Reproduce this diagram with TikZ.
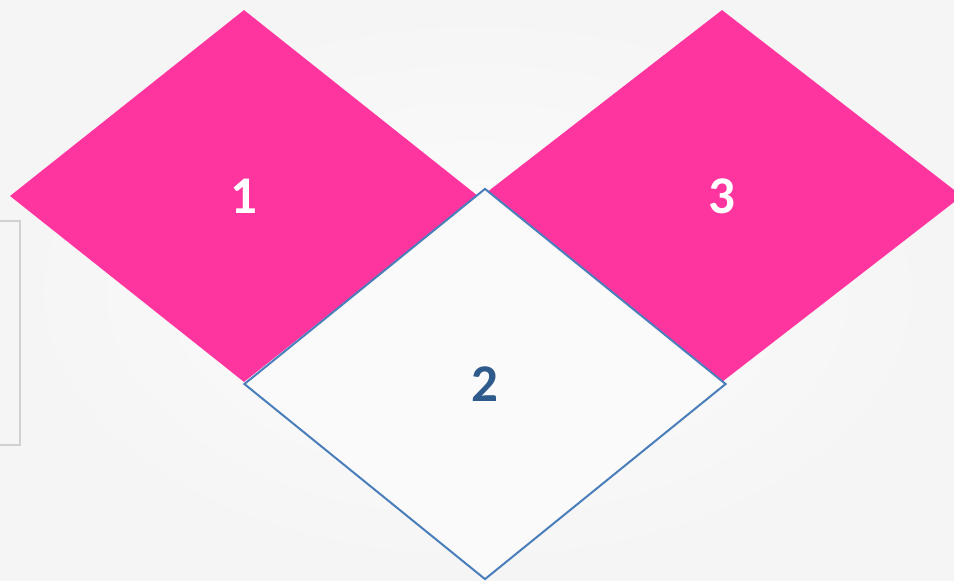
\documentclass[tikz,border=0pt]{standalone}
\usepackage{fontspec}
\setmainfont{Carlito}
\usetikzlibrary{shapes.geometric, positioning}
\definecolor{petalpink}{HTML}{FF359F}
\definecolor{edgeblue}{HTML}{4A7EBB}
\definecolor{numberblue}{HTML}{2F5A8C}
\definecolor{framegray}{HTML}{D0D0D0}
\begin{document}
\begin{tikzpicture}[
    x=1pt, y=-1pt,
    every node/.style={font=\fontsize{53}{53}\selectfont\bfseries},
    petal/.style={diamond, inner sep=0pt, minimum width=#1, minimum height=372pt, fill=petalpink, text=white},
    petal/.default=468pt,
    hollow/.style={diamond, inner sep=0pt, minimum width=482pt, minimum height=391pt, fill=white!98!black, draw=edgeblue, line width=2pt, text=numberblue},
]

% Background
\useasboundingbox (0,0) rectangle (954,581);
\clip (0,0) rectangle (954,581);
\shade[inner color=white!99!black, outer color=black!4] (0,0) rectangle (954,581);

% Frame at the left edge
\draw[framegray, line width=2pt] (-10,221) rectangle (20,445);

% Pink diamonds
\node[petal] (one) at (244,196) {1};
\node[petal=480pt] (three) at (722,196) {3};

% Outlined diamond
\node[hollow] (two) at (485,384) {2};

\end{tikzpicture}
\end{document}
